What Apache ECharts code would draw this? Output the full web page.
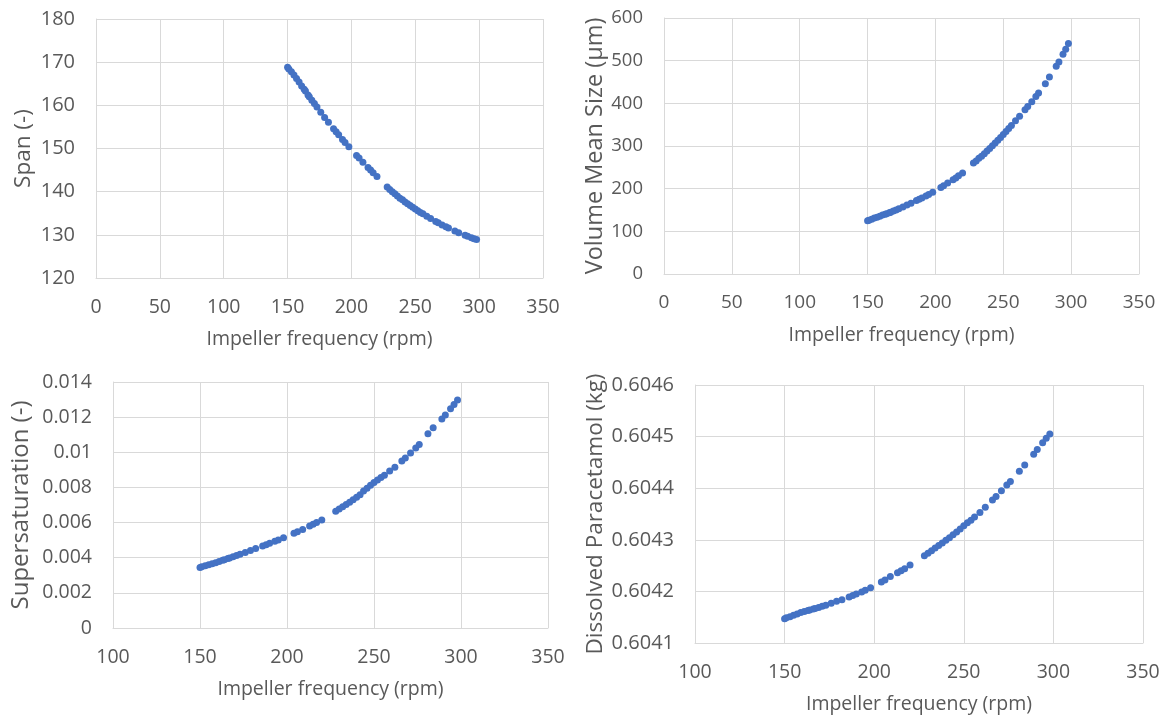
<!DOCTYPE html>
<html><head><meta charset="utf-8">
<script src="https://cdn.jsdelivr.net/npm/echarts@6/dist/echarts.min.js"></script>
<style>html,body{margin:0;padding:0;background:#fff}#c{width:1175px;height:717px}</style>
</head><body><div id="c"></div>
<script>
// Impeller frequency (rpm), shared by all four panels
const rpm = [150,151,153,155,157,159,161,163,164,166,167,169,171,173,176,179,182,186,188,190,193,195,198,204,206,209,213,215,217,220,228,230,232,234,236,238,240,242,244,246,248,250,252,254,256,259,262,266,268,271,274,276,281,284,289,291,294,296,298];
const span = [168.8,168.4,167.8,167.0,166.2,165.4,164.5,163.7,163.3,162.4,162.0,161.2,160.4,159.6,158.4,157.2,156.1,154.6,153.9,153.2,152.1,151.4,150.4,148.4,147.8,146.8,145.6,145.0,144.4,143.5,141.1,140.5,140.0,139.5,139.0,138.5,138.1,137.6,137.2,136.8,136.4,136.0,135.6,135.2,134.9,134.3,133.8,133.1,132.8,132.3,131.9,131.6,130.9,130.5,129.9,129.7,129.3,129.1,128.9];
const vms = [125,126,128.5,131,133,135.5,138,140,141.5,143.5,145,147.5,150,153,157,161.5,166,172,175,178,183,186.5,191.5,203,207,213,221,225,230,237,260,265,271,276,282,288,294,300.5,307,313.5,320,327,334,341,348,359,370,385,392.5,404,416,424,446,462,487,497,515,527,540];
const supersat = [0.00345,0.00348,0.00354,0.00360,0.00366,0.00372,0.00379,0.00386,0.00389,0.00396,0.00399,0.00406,0.00413,0.00420,0.00430,0.00441,0.00452,0.00466,0.00474,0.00482,0.00493,0.00501,0.00514,0.00539,0.00548,0.00561,0.00580,0.00590,0.00600,0.00615,0.00665,0.00677,0.00690,0.00703,0.00716,0.00730,0.00744,0.00758,0.00780,0.00796,0.00812,0.00828,0.00842,0.00856,0.00870,0.00893,0.00915,0.00950,0.00968,0.00996,0.01025,0.01044,0.01105,0.01140,0.01190,0.01212,0.01248,0.01272,0.01298];
const dissolved = [0.604147,0.604149,0.604151,0.604154,0.604156,0.604159,0.604161,0.604163,0.604164,0.604166,0.604167,0.604169,0.604171,0.604173,0.604177,0.604181,0.604184,0.604189,0.604192,0.604195,0.604199,0.604202,0.604207,0.604218,0.604222,0.604229,0.604236,0.604240,0.604244,0.604251,0.604269,0.604274,0.604279,0.604284,0.604289,0.604294,0.604299,0.604304,0.604310,0.604315,0.604321,0.604327,0.604333,0.604338,0.604344,0.604353,0.604363,0.604377,0.604384,0.604395,0.604406,0.604413,0.604433,0.604445,0.604466,0.604475,0.604488,0.604497,0.604505];

const xTitle = 'Impeller frequency (rpm)';
const yTitles = ['Span (-)', 'Volume Mean Size (\u00b5m)', 'Supersaturation (-)', 'Dissolved Paracetamol (kg)'];
const xRanges = [[0,350,50],[0,350,50],[100,350,50],[100,350,50]];
const yRanges = [[120,180,10],[0,600,100],[0,0.014,0.002],[0.6041,0.6046,0.0001]];
const seriesValues = [span, vms, supersat, dissolved];

const FONT = 'Open Sans';
const GRAY = '#595959';
const GRID = '#d9d9d9';
const grids = [
  {left:96, top:19, width:447, height:259},
  {left:664, top:18, width:475, height:256},
  {left:113, top:382, width:435, height:246},
  {left:695, top:385, width:448, height:258}
];
const yNameGap = [61, 51, 80, 88];
const yNameSize = [22.5, 23.5, 24, 22.5];
const yLabelSize = [20, 18.5, 19.5, 20];
const xLabelSize = [19.5, 19, 19.5, 19.5];

const chart = echarts.init(document.getElementById('c'));
const option = {
  animation:false,
  backgroundColor:'#fff',
  grid: grids,
  xAxis: grids.map((g,i)=>({
    gridIndex:i, type:'value', min:xRanges[i][0], max:xRanges[i][1], interval:xRanges[i][2],
    name:xTitle, nameLocation:'middle', nameGap:51,
    nameTextStyle:{fontFamily:FONT, fontSize:19.5, color:GRAY, verticalAlign:'top'},
    axisLine:{show:true, lineStyle:{color:GRID, width:1}},
    axisTick:{show:false},
    axisLabel:{fontFamily:FONT, fontSize:xLabelSize[i], color:GRAY, margin:19},
    splitLine:{show:true, lineStyle:{color:GRID, width:1}}
  })),
  yAxis: grids.map((g,i)=>({
    gridIndex:i, type:'value', min:yRanges[i][0], max:yRanges[i][1], interval:yRanges[i][2],
    name:yTitles[i], nameLocation:'middle', nameGap:yNameGap[i], nameRotate:90,
    nameTextStyle:{fontFamily:FONT, fontSize:yNameSize[i], color:GRAY},
    axisLine:{show:true, lineStyle:{color:GRID, width:1}},
    axisTick:{show:false},
    axisLabel:{fontFamily:FONT, fontSize:yLabelSize[i], color:GRAY, margin:21,
      formatter: i===3 ? (v=>v.toFixed(4)) : (v=>String(+v.toFixed(6)))},
    splitLine:{show:true, lineStyle:{color:GRID, width:1}}
  })),
  series: seriesValues.map((vals,i)=>({
    type:'scatter', xAxisIndex:i, yAxisIndex:i,
    data: rpm.map((x,k)=>[x, vals[k]]),
    symbol:'circle', symbolSize:7,
    itemStyle:{color:'#4472C4', opacity:1}
  }))
};
chart.setOption(option);
</script></body></html>
